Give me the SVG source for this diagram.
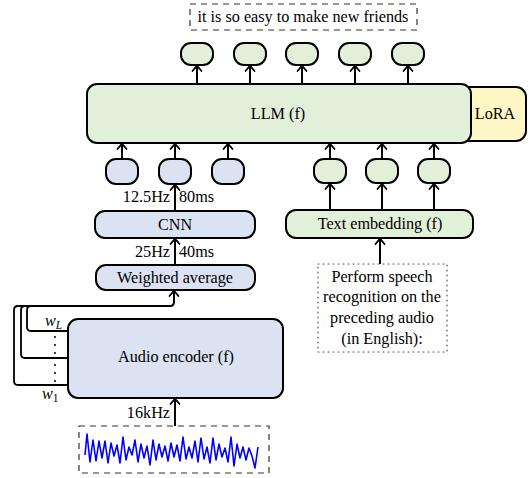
<svg xmlns="http://www.w3.org/2000/svg" width="532" height="478" viewBox="0 0 532 478">
<defs>
<marker id="arr" markerUnits="userSpaceOnUse" viewBox="-7 -6 8 12" markerWidth="8" markerHeight="12" refX="0" refY="0" orient="auto">
<path d="M-5.5,-4.5 Q-1.5,-1 0,0 Q-1.5,1 -5.5,4.5" fill="none" stroke="#000" stroke-width="1.7" stroke-linecap="round"/>
</marker>
<style>
text{font-family:"Liberation Serif","Times New Roman",serif;font-size:16.2px;fill:#000;text-anchor:middle}
.box{stroke:#000;stroke-width:2}
.blue{fill:#dbe2f1}
.green{fill:#e2efd9}
.yellow{fill:#fff8c6}
.con{fill:none;stroke:#000;stroke-width:2;marker-end:url(#arr)}
.loop{fill:none;stroke:#000;stroke-width:1.8}
.dash{fill:none;stroke:#333;stroke-width:1.2;stroke-dasharray:6 5}
.dot{fill:none;stroke:#555;stroke-width:1.2;stroke-dasharray:1 4;stroke-linecap:round}
.l{text-anchor:start}
.r{text-anchor:end}
.m{font-style:italic}
</style>
</defs>

<g id="lora"><rect class="box yellow" x="455" y="87" width="71" height="54" rx="10"/><text x="495" y="119">LoRA</text></g>
<g id="llm"><rect class="box green" x="87" y="84" width="384" height="59" rx="10"/><text x="278" y="119">LLM (f)</text></g>

<g id="output-text"><rect class="dash" x="190" y="4" width="227" height="26"/><text x="303" y="22">it is so easy to make new friends</text></g>

<g id="out-tokens">
<rect class="box green" x="181" y="43" width="32" height="22" rx="10"/>
<rect class="box green" x="234" y="43" width="32" height="22" rx="10"/>
<rect class="box green" x="286" y="43" width="32" height="22" rx="10"/>
<rect class="box green" x="339" y="43" width="32" height="22" rx="10"/>
<rect class="box green" x="392" y="43" width="32" height="22" rx="10"/>
</g>

<g id="audio-tokens">
<rect class="box blue" x="106" y="159" width="32" height="25" rx="10"/>
<rect class="box blue" x="159" y="159" width="32" height="25" rx="10"/>
<rect class="box blue" x="212" y="159" width="32" height="25" rx="10"/>
</g>

<g id="text-tokens">
<rect class="box green" x="314" y="159" width="32" height="24" rx="10"/>
<rect class="box green" x="366" y="159" width="32" height="24" rx="10"/>
<rect class="box green" x="418" y="159" width="32" height="24" rx="10"/>
</g>

<g id="cnn"><rect class="box blue" x="95" y="211" width="160" height="27" rx="10"/><text x="175" y="230">CNN</text></g>
<g id="weighted-average"><rect class="box blue" x="96" y="265" width="159" height="25" rx="10"/><text x="175" y="283">Weighted average</text></g>
<g id="text-embedding"><rect class="box green" x="286" y="210" width="187" height="28" rx="10"/><text x="380" y="229">Text embedding (f)</text></g>
<g id="audio-encoder"><rect class="box blue" x="68" y="319" width="215" height="79" rx="10"/><text x="176" y="362">Audio encoder (f)</text></g>

<g id="prompt"><rect class="dot" x="318" y="264" width="129" height="88"/>
<text x="382" y="282">Perform speech</text>
<text x="382" y="302">recognition on the</text>
<text x="382" y="323">preceding audio</text>
<text x="382" y="344">(in English):</text>
</g>

<g id="waveform"><rect class="dash" x="79" y="426" width="190" height="47"/>
<polyline fill="none" stroke="#0000ff" stroke-width="1.6" stroke-linejoin="round" points="85,455 87,434 90,462 93,440 96,461 99,441 102,458 105,441 108,463 111,443 114,456 117,445 120,463 123,437 126,460 129,447 132,455 135,440 138,462 141,444 144,458 147,446 150,465 153,440 156,460 159,444 162,457 165,446 168,461 171,443 174,457 177,445 180,461 183,437 186,459 189,447 192,458 195,441 198,462 201,438 204,459 207,447 210,463 213,438 216,460 219,444 222,457 225,448 228,462 231,437 234,466 237,444 240,458 243,447 246,460 249,448 252,456 255,468 258,447"/>
</g>

<g id="weights">
<text x="45" y="326" class="l m">w<tspan font-size="11.5" dy="3">L</tspan></text>
<text x="42" y="399" class="l m">w<tspan font-size="11.5" dy="3" font-style="normal">1</tspan></text>
<g fill="#000"><circle cx="55" cy="337" r="1"/><circle cx="55" cy="345" r="1"/><circle cx="55" cy="353" r="1"/><circle cx="55" cy="365" r="1"/><circle cx="55" cy="373" r="1"/><circle cx="55" cy="381" r="1"/></g>
</g>

<g id="connectors">
<path class="con" d="M197,84V65.5"/>
<path class="con" d="M250,84V65.5"/>
<path class="con" d="M302,84V65.5"/>
<path class="con" d="M355,84V65.5"/>
<path class="con" d="M408,84V65.5"/>
<path class="con" d="M122,159V143.5"/>
<path class="con" d="M175,159V143.5"/>
<path class="con" d="M228,159V143.5"/>
<path class="con" d="M330,159V143.5"/>
<path class="con" d="M382,159V143.5"/>
<path class="con" d="M434,159V143.5"/>
<path class="con" d="M175,211V184.5"/>
<path class="con" d="M330,210V183.5"/>
<path class="con" d="M382,210V183.5"/>
<path class="con" d="M434,210V183.5"/>
<path class="con" d="M175,265V238.5"/>
<path class="con" d="M380,264V238.5"/>
<path class="con" d="M175,426V398.5"/>
<path class="loop" d="M68,331H31Q27,331 27,327V310Q27,306 31,306H171"/>
<path class="loop" d="M68,358H25Q21,358 21,354V310Q21,306 25,306H171"/>
<path class="loop" d="M68,385H18Q14,385 14,381V310Q14,306 18,306H171"/>
<path class="con" d="M170,306Q174,306 174,302V290.5"/>
</g>

<g id="rate-labels">
<text x="170" y="202" class="r">12.5Hz</text><text x="179" y="202" class="l">80ms</text>
<text x="170" y="257" class="r">25Hz</text><text x="179" y="257" class="l">40ms</text>
<text x="170" y="418" class="r">16kHz</text>
</g>
</svg>
